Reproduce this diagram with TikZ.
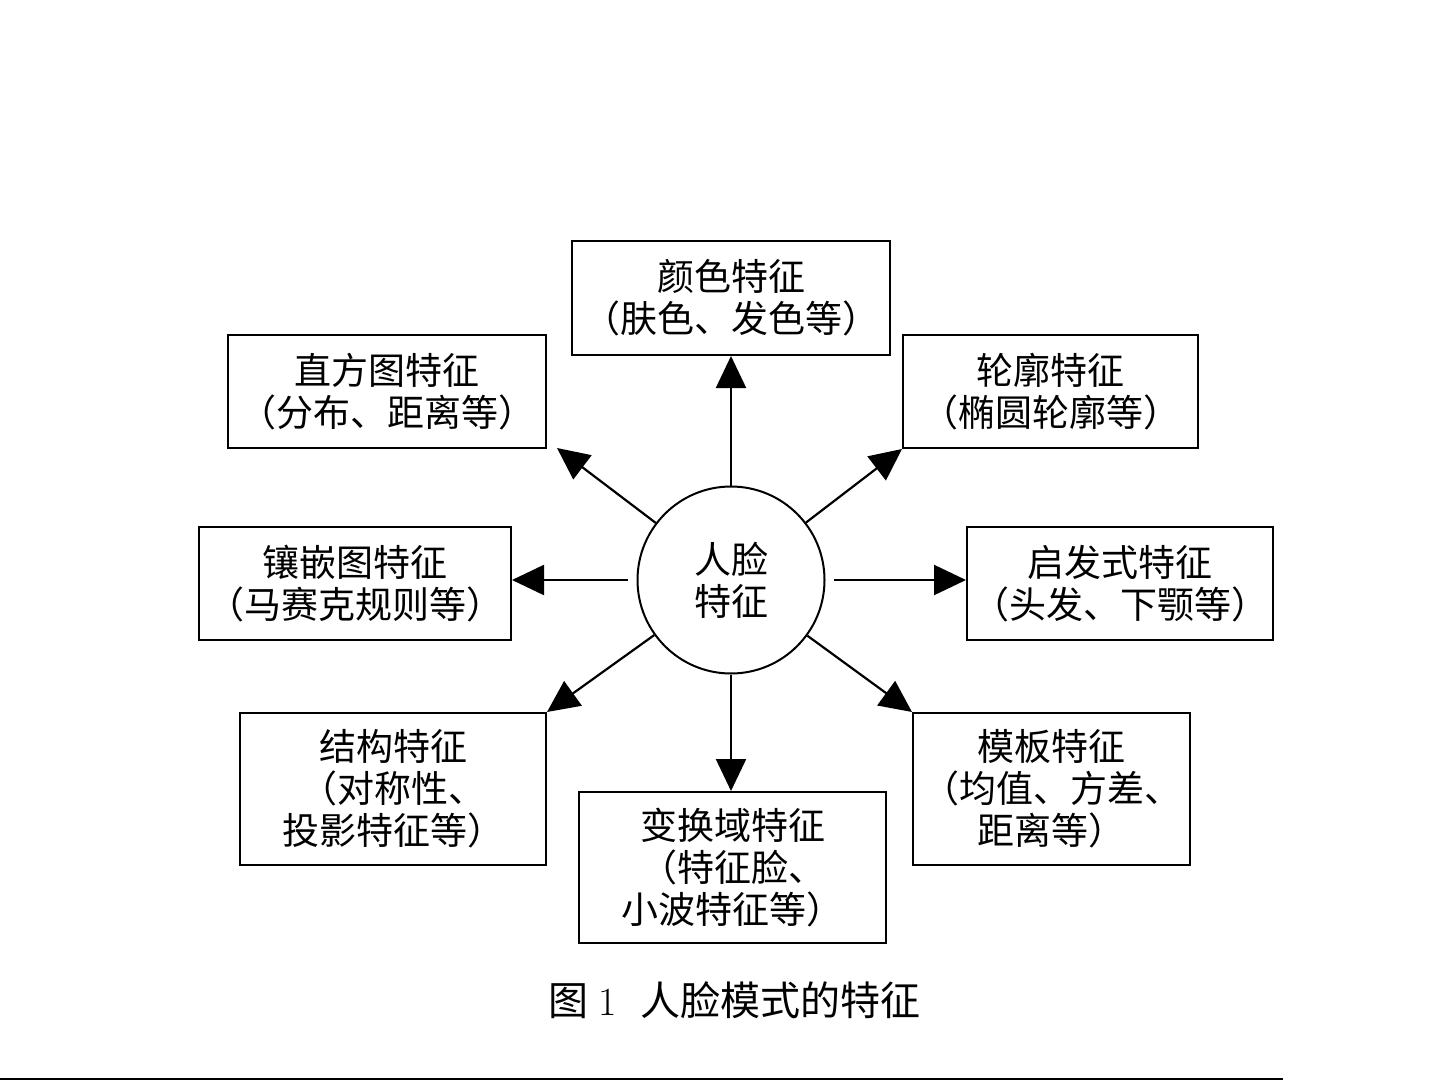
\documentclass[tikz,border=0pt]{standalone}
\usepackage{fontspec}
\newfontfamily\cjk{Noto Sans CJK SC}
\usetikzlibrary{arrows.meta}
\begin{document}
\begin{tikzpicture}[x=1pt,y=-1pt,
  txt/.style={font=\cjk\fontsize{37}{42}\selectfont},
  box/.style={txt,draw,line width=2pt,inner sep=0pt,align=center},
  arr/.style={line width=2.2pt,-{Triangle[length=32pt,width=30pt]}}]
\useasboundingbox[fill=white] (0,0) rectangle (1441,1081);
\node[box,minimum width=318pt,minimum height=114pt] (col) at (731,298) {颜色特征\\（肤色、发色等）};
\node[box,minimum width=318pt,minimum height=113pt] (his) at (387,391.5) {直方图特征\\（分布、距离等）};
\node[box,minimum width=295pt,minimum height=113pt] (con) at (1050.5,391.5) {轮廓特征\\（椭圆轮廓等）};
\node[box,minimum width=312pt,minimum height=113pt] (mos) at (355,583.5) {镶嵌图特征\\（马赛克规则等）};
\node[box,minimum width=306pt,minimum height=113pt] (heu) at (1120,583.5) {启发式特征\\（头发、下颚等）};
\node[box,minimum width=306pt,minimum height=152pt] (str) at (393,789) {结构特征\\（对称性、\\投影特征等）};
\node[box,minimum width=307pt,minimum height=151pt] (trn) at (732.5,867.5) {变换域特征\\（特征脸、\\小波特征等）};
\node[box,minimum width=277pt,minimum height=152pt] (tmp) at (1051.5,789) {模板特征\\（均值、方差、\\距离等）};
\node[txt,draw,circle,line width=2pt,minimum size=187pt,inner sep=0pt,align=center] (c) at (731,580) {人脸\\特征};
\coordinate (tipul) at (557,448);
\draw[arr] (c) -- (tipul);
\draw[arr] (c.north) -- (c.north |- col.south);
\draw[arr] (c) -- (con.south west);
\draw[arr,shorten <=9pt] (c.west) -- (c.west -| mos.east);
\draw[arr,shorten <=8pt] (c.east) -- (c.east -| heu.west);
\draw[arr] (c) -- (str.north east);
\draw[arr] (c.south) -- (c.south |- trn.north);
\draw[arr] (c) -- (tmp.north west);
\node[font=\cjk\fontsize{40}{44}\selectfont,anchor=west] (cap) at (545,1000) {图\hspace{10pt}{\rmfamily 1}\hspace{24pt}人脸模式的特征};
\draw[line width=2pt] (0,1079) -- (1283,1079);
\end{tikzpicture}
\end{document}
